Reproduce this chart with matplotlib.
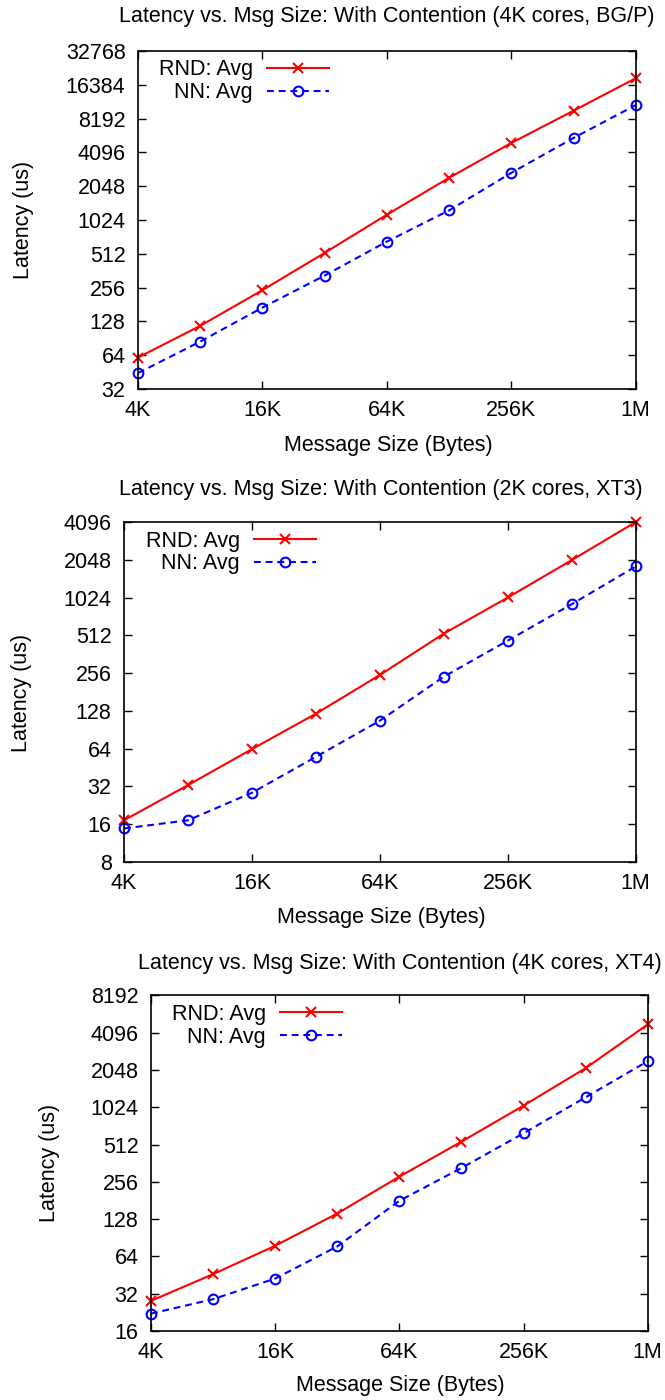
import matplotlib
matplotlib.use('Agg')
import matplotlib.pyplot as plt
import numpy as np

plt.rcParams['font.family'] = ['Liberation Sans', 'DejaVu Sans']

# message sizes (bytes)
msg_sizes = [4096, 8192, 16384, 32768, 65536, 131072, 262144, 524288, 1048576]
xtick_vals = [4096, 16384, 65536, 262144, 1048576]
xtick_labels = ['4K', '16K', '64K', '256K', '1M']

# BG/P, 4K cores
bgp_rnd = [61, 117, 243, 522, 1142, 2432, 4970, 9620, 18740]
bgp_nn = [44.4, 84.7, 170, 328, 658, 1248, 2693, 5503, 10800]
bgp_yticks = [32, 64, 128, 256, 512, 1024, 2048, 4096, 8192, 16384, 32768]

# XT3, 2K cores
xt3_rnd = [17.2, 32.8, 63.5, 121.6, 247.5, 529, 1026, 2038, 4100]
xt3_nn = [14.8, 17.2, 28.5, 55.1, 107, 240, 465, 908, 1814]
xt3_yticks = [8, 16, 32, 64, 128, 256, 512, 1024, 2048, 4096]

# XT4, 4K cores
xt4_rnd = [28, 46, 78, 142, 282, 540, 1056, 2118, 4775]
xt4_nn = [22.1, 28.9, 42.4, 77, 180, 331, 631, 1233, 2411]
xt4_yticks = [16, 32, 64, 128, 256, 512, 1024, 2048, 4096, 8192]

FS = 15.5

# title, rnd, nn, yticks, axes rect, title pos, xlabel pos, ylabel pos
panels = [
    ('Latency vs. Msg Size: With Contention (4K cores, BG/P)', bgp_rnd, bgp_nn, bgp_yticks,
     [0.2075, 0.7221, 0.7485, 0.2415], (0.582, 0.9879), (0.5835, 0.6821), (0.0346, 0.8429)),
    ('Latency vs. Msg Size: With Contention (2K cores, XT3)', xt3_rnd, xt3_nn, xt3_yticks,
     [0.1865, 0.3843, 0.7695, 0.2428], (0.573, 0.6500), (0.573, 0.3450), (0.0330, 0.5050)),
    ('Latency vs. Msg Size: With Contention (4K cores, XT4)', xt4_rnd, xt4_nn, xt4_yticks,
     [0.2270, 0.0493, 0.7470, 0.2397], (0.6015, 0.3120), (0.6015, 0.0107), (0.0737, 0.1690)),
]

fig = plt.figure(figsize=(6.65, 14), dpi=100)

for title, rnd, nn, yticks, rect, tpos, xlpos, ylpos in panels:
    ax = fig.add_axes(rect)
    ax.plot(msg_sizes, rnd, color='#ff0000', lw=1.5, marker='x', ms=7.5, mew=1.5,
            label='RND: Avg', clip_on=False)
    ax.plot(msg_sizes, nn, color='#0000ff', lw=1.5, ls=(0, (3.3, 2.3)), marker='o', ms=7,
            mfc='none', mew=1.5, label='NN: Avg', clip_on=False)
    ax.set_xscale('log', base=2)
    ax.set_yscale('log', base=2)
    ax.set_xlim(msg_sizes[0], msg_sizes[-1])
    ax.set_ylim(yticks[0], yticks[-1])
    ax.set_xticks(xtick_vals)
    ax.set_xticklabels(xtick_labels)
    ax.set_yticks(yticks)
    ax.set_yticklabels([str(v) for v in yticks])
    ax.minorticks_off()
    ax.tick_params(direction='in', length=6, width=1, top=True, right=True,
                   labelsize=FS)
    ax.tick_params(axis='x', pad=8)
    ax.tick_params(axis='y', pad=9)
    for s in ax.spines.values():
        s.set_linewidth(1.2)
    fig.text(tpos[0], tpos[1], title, ha='center', va='center', fontsize=FS)
    fig.text(xlpos[0], xlpos[1], 'Message Size (Bytes)', ha='center', va='center',
             fontsize=FS)
    fig.text(ylpos[0], ylpos[1], 'Latency (us)', rotation=90, ha='center',
             va='center', fontsize=FS)
    leg = ax.legend(loc='upper left', bbox_to_anchor=(0.042, 0.975), frameon=False,
                    markerfirst=False, handlelength=2.9, fontsize=FS, borderpad=0,
                    borderaxespad=0, labelspacing=0.08, handletextpad=0.65)
    for t in leg.get_texts():
        t.set_ha('right')

fig.savefig('out.png', dpi=100)
